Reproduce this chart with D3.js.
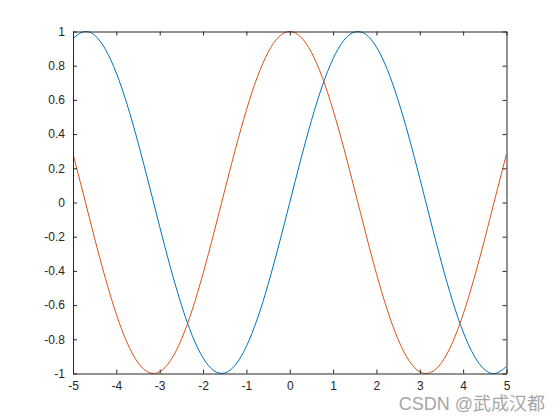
<!DOCTYPE html>
<html><head><meta charset="utf-8">
<script src="https://cdn.jsdelivr.net/npm/d3@7"></script>
<style>body{margin:0;background:#fff}svg{display:block}</style>
</head><body>
<script>
const xs = [-5,-4.75,-4.5,-4.25,-4,-3.75,-3.5,-3.25,-3,-2.75,-2.5,-2.25,-2,-1.75,-1.5,-1.25,-1,-0.75,-0.5,-0.25,0,0.25,0.5,0.75,1,1.25,1.5,1.75,2,2.25,2.5,2.75,3,3.25,3.5,3.75,4,4.25,4.5,4.75,5];
const sinVals = [0.959,0.999,0.978,0.895,0.757,0.572,0.351,0.108,-0.141,-0.382,-0.598,-0.778,-0.909,-0.984,-0.997,-0.949,-0.841,-0.682,-0.479,-0.247,0,0.247,0.479,0.682,0.841,0.949,0.997,0.984,0.909,0.778,0.598,0.382,0.141,-0.108,-0.351,-0.572,-0.757,-0.895,-0.978,-0.999,-0.959];
const cosVals = [0.284,0.038,-0.211,-0.446,-0.654,-0.821,-0.937,-0.994,-0.990,-0.924,-0.801,-0.628,-0.416,-0.178,0.071,0.315,0.540,0.732,0.878,0.969,1,0.969,0.878,0.732,0.540,0.315,0.071,-0.178,-0.416,-0.628,-0.801,-0.924,-0.990,-0.994,-0.937,-0.821,-0.654,-0.446,-0.211,0.038,0.284];
const xTicks = [-5,-4,-3,-2,-1,0,1,2,3,4,5];
const yTicks = [-1,-0.8,-0.6,-0.4,-0.2,0,0.2,0.4,0.6,0.8,1];
const seriesColors = ["#0072BD","#D95319"];

const W=560,H=420, L=73, R=506.5, T=31.5, B=373.5;
const svg = d3.select("body").append("svg").attr("width",W).attr("height",H);
const x = d3.scaleLinear().domain([-5,5]).range([L,R]);
const y = d3.scaleLinear().domain([-1,1]).range([B,T]);
const font = "Arial, 'Liberation Sans', sans-serif";

const line = d3.line().x(d=>x(d[0])).y(d=>y(d[1])).curve(d3.curveNatural);
svg.append("clipPath").attr("id","c").append("rect").attr("x",L).attr("y",T-1).attr("width",R-L).attr("height",B-T+2);
[sinVals,cosVals].forEach((vals,i)=>{
  svg.append("path").attr("clip-path","url(#c)").datum(xs.map((v,j)=>[v,vals[j]]))
    .attr("d",line).attr("fill","none").attr("stroke",seriesColors[i]).attr("stroke-width",1);
});

const fmt = d=>String(Math.round(d*10)/10);
const gx = svg.append("g").attr("transform",`translate(0,${B})`)
  .call(d3.axisBottom(x).tickValues(xTicks).tickFormat(fmt).tickSizeInner(-4).tickSizeOuter(0).tickPadding(8));
const gy = svg.append("g").attr("transform",`translate(${L},0)`)
  .call(d3.axisLeft(y).tickValues(yTicks).tickFormat(fmt).tickSizeInner(-4).tickSizeOuter(0).tickPadding(8));
const gx2 = svg.append("g").attr("transform",`translate(0,${T})`)
  .call(d3.axisTop(x).tickValues(xTicks).tickFormat("").tickSizeInner(-4).tickSizeOuter(0));
const gy2 = svg.append("g").attr("transform",`translate(${R},0)`)
  .call(d3.axisRight(y).tickValues(yTicks).tickFormat("").tickSizeInner(-4).tickSizeOuter(0));
[gx,gy,gx2,gy2].forEach(g=>{
  g.select(".domain").attr("stroke","#262626").attr("stroke-width",1);
  g.selectAll(".tick line").attr("stroke","#262626");
  g.selectAll("text").attr("fill","#262626").style("font-family",font).style("font-size","12px");
});

svg.append("text").attr("x",545).attr("y",410).attr("text-anchor","end")
  .style("font-family","Arial, 'Liberation Sans', 'Noto Sans CJK SC', sans-serif").style("font-size","18px")
  .attr("fill","#a6a6a6").attr("stroke","#fff").attr("stroke-width",2).attr("paint-order","stroke")
  .text("CSDN @武成汉都");
</script>
</body></html>
